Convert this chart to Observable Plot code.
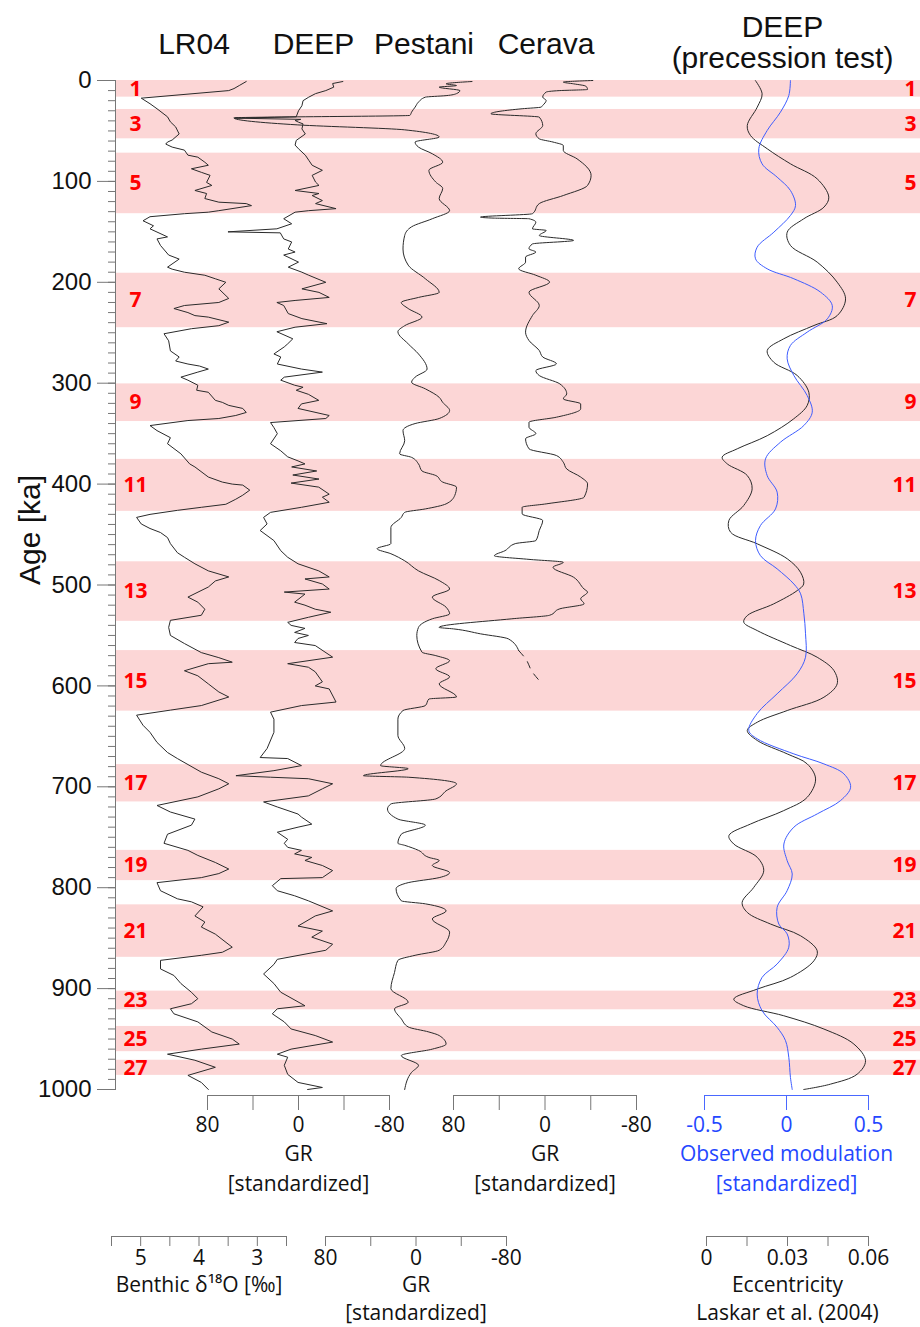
<!DOCTYPE html>
<html><head><meta charset="utf-8">
<script src="https://cdn.jsdelivr.net/npm/d3@7"></script>
<script src="https://cdn.jsdelivr.net/npm/@observablehq/plot@0.6"></script>
<style>
body{margin:0;background:#fff}
#wrap{position:relative;width:920px;height:1327px;overflow:hidden;background:#fff}
#wrap svg{position:absolute;left:0;top:0}
</style></head><body><div id="wrap"></div>
<script>
// Marine isotope stages (odd = interglacial bands), ages in ka
const misStage = [1,3,5,7,9,11,13,15,17,19,21,23,25,27];
const misStart = [0,28.7,72,191,300.7,375.5,477,565,678,763,817,902.5,937.5,971];
const misEnd   = [16.5,57.8,132,245,338,427,536,625,715,793,869,921,962.5,986];

// LR04 benthic d18O [permil] : [age ka, value]
const lr04 = [[1,3.19],[5,3.31],[8,3.40],[10,3.49],[17.5,4.99],[23,4.84],[28,4.72],[36,4.54],[41,4.49],[46,4.40],[53,4.34],[59,4.46],[61,4.54],[63,4.57],[66,4.46],[69,4.25],[74,4.19],[76,4.02],[81,3.90],[84,3.84],[87.5,4.13],[91,3.96],[94,3.81],[101,3.87],[104,3.78],[109,4.07],[112,3.87],[117,3.90],[120.6,3.66],[122,3.19],[124,3.10],[129,3.66],[130.5,3.84],[132,4.25],[135,4.84],[139,4.96],[144,4.78],[147,4.84],[155,4.54],[157,4.72],[163.5,4.66],[173,4.52],[177,4.34],[185,4.54],[187,4.46],[190,4.25],[193,3.90],[196.5,3.72],[200,3.54],[206.5,3.66],[216,3.49],[220,3.66],[223,4.25],[226,4.43],[230,4.19],[233,4.07],[234.5,3.84],[239.5,3.49],[243,3.66],[246,4.13],[251,4.60],
[258,4.52],[268,4.49],[274,4.34],[278,4.40],[281,4.19],[283,3.99],[286,3.84],[289,4.02],[294,4.31],[297,4.19],[302,4.02],[307,4.04],[309,3.84],[317,3.72],[319,3.60],[322,3.49],[325,3.25],[329,3.19],[332,3.37],[335,3.66],[337,4.19],[342,4.84],[347,4.72],[354,4.49],[360,4.54],[370,4.31],[380,4.16],[383,4.07],[393,3.84],[398,3.60],[400,3.43],[401,3.25],[406,3.13],[411,3.25],[415,3.37],[420,3.54],[423,3.96],[426,4.37],[430,4.84],[433,5.07],[439.5,4.99],[444,4.84],[448,4.66],[453,4.54],[459,4.49],[468,4.37],[472.5,4.25],[479,4.07],[486,3.84],[492,3.49],[496,3.72],[502,3.84],
[512,4.19],[517,4.02],[524,3.90],[530,3.96],[535,4.49],[542,4.52],[550,4.49],[558,4.25],[567,3.96],[572,3.66],[576.5,3.43],[578,3.84],[585,4.25],[590,4.02],[598,3.84],[606,3.66],[611,3.49],[619.5,3.96],[624,4.49],[629,5.07],[639,4.96],[646,4.84],[656,4.72],[666,4.54],[672,4.37],[685.5,3.96],[692,3.66],[697,3.49],[702,3.66],[710,4.02],[718.5,4.72],[725,4.49],[732,4.07],[738,4.13],[747,4.54],[756,4.60],
[763,4.19],[768,4.02],[775,3.72],[781.5,3.49],[786,3.66],[790,3.96],[795,4.72],[803,4.66],[811,4.37],[814,4.13],[819,3.93],[828,4.07],[834,3.90],[839,3.96],[846,3.72],[859,3.43],[864,3.60],[867,3.96],[872,4.66],[880.5,4.66],[887,4.43],[895,4.31],[903.6,4.13],[910,4.02],[915,4.13],[920,4.49],[925,4.43],[933,4.02],[943,3.78],[950,3.43],[955,3.31],[960,3.96],[965,4.54],[971,4.07],[978,3.72],[986,4.19],[993,3.96],[1000,3.84]];

// DEEP gamma ray [standardized]
const deepGR = [[1,-39],[3,-30],[6.6,-31],[10,-24],[13,-15],[16.5,-9],[20,-4],[25,-3],[30,0],[36,2],[37.3,56],[38.5,-2],[39.6,3],[41.3,0],[43,-4],[48,-3],[53,-6],[59.4,2],[64,3],[67.7,0],[74,-6],[79,-9],[84,-12],[89,-21],[94,-12],[100.7,-15],[104,-18],[109,3],[112,-18],[114,-12],[119,-21],[122,-15],[127,-33],[129,-9],[130.5,3],[137,13],[142,6],[147,19],[150,62],[151,16],[157,13],[160,6],[167,9],[170,3],[173,13],[180,0],[185,9],[190,-3],[193,-9],[200,-24],[206.5,-3],[210,-18],[215,-27],[218,3],[220,19],[223,13],[231,9],[236,-3],[241,-25],[244.5,3],[249,19],
[256,5],[261,9.5],[264,12.5],[271,21.6],[274,15.6],[281,18.6],[286,-2.6],[289,-21],[294,12.5],[297,15.6],[302,3.4],[304,-4],[307,2],[311,-8.7],[317,-17.8],[320.5,-2.6],[325,0.4],[332,-27],[335,-24],[339,24.6],[344,21.6],[350,18.6],[360,24.6],[367,15.6],[373,9.5],[377,0.4],[380,-5.7],[383,6],[387,-16],[391,5],[395,-18],[399,6.5],[403,-17.8],[410,-27],[413,-21],[418,-27],[423,-2.6],[428,24.6],[433,30.7],[439.5,27.6],[446,33.7],[456,21.6],[466,15.6],[472.5,9.5],[479,0.4],[486,-17.8],[492,-27],[494,-5.7],[499,-21],[504,-27],
[507,12.5],[509,-5.7],[517,3.4],[520,-5.7],[524,-14.7],[527,-28.4],[532,-8.7],[537,9.5],[540,6.5],[543,-5.7],[547,3.4],[550,-8.7],[553,0.4],[557,3.4],[560,-14.7],[571.5,-30],[578,9.5],[581.5,-8.7],[586,-14.7],[596,-21],[600,-14.7],[603,-27],[616,-33],[619.5,-2.6],[626,24.6],[633,21.6],[646,21.6],[662,27.6],[671,33.7],[672,9.5],[679,-2.6],[684,21.6],[689,55],[690.5,24.6],[692,-8.7],[697,-30],[702,-21],[709,-8.7],[715,30.7],[720,18.6],[727,0.4],[730,-2.6],[737,-11.7],[740,0.4],[745,18.6],[752,9.5],[756,12.5],
[760,9.5],[763,-2.6],[766.5,3.4],[770,-11.7],[773,-5.7],[778,-21],[783,-30],[790,-21],[791,15.6],[798,23],[803,18.6],[808,3.4],[813,-8.7],[823,-30],[828,-14.7],[838,0.4],[843,-21],[849,-11.7],[856,-30],[862,-24],[871,18.6],[876,21.6],[885.5,30.7],[895,21.6],[903.6,15.6],[917,-5.7],[920,18.6],[925,23],[933,12.5],[940,6.5],[946.5,-14.7],[953,-30],[960,6.5],[965,18.6],[968,9.5],[976,12.5],[985,9.5],[993,0.4],[998,-21],[1000,-8]];

// Pestani gamma ray [standardized]
const pestaniGR = [[1,-49.5],[3.3,-26.6],[5,-35.8],[6.6,-20.5],[10,-38.8],[13,-35.8],[15,-26.6],[16.5,-8.3],[21.4,-2.2],[26.4,0.8],[31.3,3.9],[34.6,5.4],[37,161],[44,104.5],[48.9,10],[56,-20.5],[61,0.8],[66,-2.2],[72.6,-14.4],[81,-23.6],[89,-11.4],[100.7,-17.5],[107,-23.6],[117,-20.5],[129,-29.7],[137,-14.4],[145,3.9],[153.6,10],[167,11.5],[183,6.9],[196.5,-8.3],[210,-20.5],[215,-2.2],[220,13],[226,6.9],[234.5,-5.3],[243,10],[249,16],
[261,6.9],[271,-2.2],[286,-9.8],[294,0.8],[299,3.9],[305.6,-8.3],[314,-20.5],[319,-23.6],[327,-29.7],[335,-20.5],[340,0.8],[347,11.5],[357,10],[370,14.5],[373.5,3.9],[380,-2.2],[387,-5.3],[391.5,-17.5],[398,-23.6],[403,-35.8],[411.4,-34.2],[419.6,-26.6],[424.6,-8.3],[428,10],[433,13],[443,22.2],[459,22.2],[464,34.4],[469,22.2],[476,10],[486,-2.2],[495.6,-20.5],[504,-29.7],
[512,-14.4],[522,-26.6],[528.6,-29.7],[533.5,-14.4],[542,-2.2],[550,-0.7],[566.6,-5.3],[570,-17.5],[575,-29.7],[583,-17.5],[591,-29.7],[598,-20.5],[611,-35.8],[613,-11.4],[619.5,-8.3],[624.4,11.5],[633,16],[649,16],[662,10],[679,31.3],[682,6.9],[689,46.5],[690.5,6.9],[697,-35.8],[704,-26.6],[712,-17.5],[717,22.2],[722,25.2],[732,16],[738,-8.3],[747,13],[756,16],
[758,10],[763,-2.2],[770,-11.4],[773,-20.5],[778,-14.4],[785,-29.7],[790,-20.5],[795,6.9],[801,17.6],[813,13],[816,-8.3],[823,-26.6],[831,-14.4],[844,-29.7],[854,-26.6],[862,-20.5],[867,0.8],[872,16],[884,19],[900,22.2],[913.5,6.9],[920,19],[930,13],[938,6.9],[943,-11.4],[946.5,-20.5],[955,-26.6],[960,-14.4],[966.4,13],[976,-2.2],[983,3.9],[1000,10]];

// Cerava gamma ray [standardized] (solid part, then dashed tail)
const ceravaGR = [[0,-41.8],[1.6,-16],[3.3,-25],[5.6,-35.7],[8.9,-37.2],[10,-13],[11.5,-1],[16.5,2],[19.8,-1],[24.7,2],[26.4,3.5],[28,20],[33,47.3],[36.3,5],[44.6,2],[52.8,8],[57.8,5],[61,-7],[64.4,-16],[69.3,-16],[77.6,-28],[94,-40.3],[104,-37.2],[114,-16],[122,5],[132,11],[135.4,56.4],[136.4,44.3],[137,14],[140.4,8],[147,11],[148.6,-1],[153.6,5],[158.5,-25],[162,11],[166.8,14],[170,8],[175,17],[180,17],[186.6,23],[193,8],[199.8,-4],[209.8,14],[223,5],[233,11],[249.4,17],
[257.7,14],[267.6,5],[274,2],[280.8,-10],[287.5,8],[292.4,5],[300.7,-13],[310.6,-19],[315.5,-16],[320.5,-31.2],[325.4,-31.2],[333.7,-10],[338.7,14],[343.6,14],[350,8],[355,17],[365,14],[371.7,-10],[378.3,-16],[385,-19],[393,-31.2],[399.8,-37.2],[413,-34.2],[419.6,-1],[423,20],[429.5,20],[436,2],[446,5],[456,8],[459,26],[466,35],[471,44.3],[474.6,14],[477.5,-16],[482.4,-7],[492.3,-25],[504,-34.2],
[507,-37.2],[513.7,-31.2],[518.7,-34.2],[523.6,-13],[530,-4],[533.5,29],[542,92.6],[543.5,80],[548.4,56.4],[553.4,32],[565,23]];
const ceravaTail = [[565,23],[573,17],[586.4,11],[594.7,5]];

// Laskar et al. (2004) eccentricity
const eccentricity = [[0,0.0181],[13.2,0.0206],[26.4,0.0188],[44.6,0.0151],[54.5,0.0163],[67.7,0.0225],[82.6,0.0311],[97.5,0.0410],[115.6,0.0453],[125.5,0.0435],[137.1,0.0360],[150.3,0.0299],[163.5,0.0311],[180,0.0410],[199.9,0.0484],[216.4,0.0515],[233,0.0484],[242.8,0.0398],[256,0.0286],[267.6,0.0225],[279.2,0.0249],[292.4,0.0336],[309,0.0379],[322,0.0373],[335.3,0.0323],[352,0.0225],[365,0.0114],[373.3,0.0058],[380,0.0077],[391.5,0.0151],[404.7,0.0169],[421.2,0.0138],[436,0.0083],[447.6,0.0089],[459.2,0.0188],[474,0.0299],[487.3,0.0348],[499,0.0360],
[505.5,0.0336],[518.7,0.0249],[530.3,0.0151],[536.9,0.0138],[545.2,0.0188],[560,0.0311],[571.6,0.0410],[584.8,0.0472],[598,0.0484],[611.2,0.0435],[624.4,0.0299],[636,0.0188],[644.2,0.0151],[654.1,0.0188],[667.4,0.0299],[677.3,0.0373],[692.2,0.0404],[710.4,0.0373],[723.6,0.0286],[736.9,0.0163],[748.4,0.0083],[756.7,0.0101],[769.9,0.0188],[783.2,0.0212],[799.7,0.0175],[814.6,0.0132],[824.5,0.0151],[836,0.0237],[847.6,0.0348],[862.5,0.0410],[872.4,0.0398],[888.9,0.0311],[900.5,0.0188],[910.4,0.0101],[917,0.0138],[926.9,0.0286],[940.1,0.0435],[955,0.0546],[971.5,0.0589],[984.8,0.0558],[994.7,0.0459],[1000,0.0360]];

// DEEP observed precession modulation [standardized]
const modulation = [[0,0.024],[14.9,0.014],[31.4,-0.037],[49.6,-0.118],[67.7,-0.169],[82.6,-0.149],[95.8,-0.057],[109,0.024],[123.9,0.055],[133.8,0.024],[150.3,-0.077],[165.2,-0.179],[176.7,-0.189],[186.6,-0.118],[196.5,0.045],[209.8,0.208],[223,0.279],[236.2,0.249],[249.4,0.126],[262.6,0.024],[275.8,0.004],[292.4,0.045],[312.2,0.126],[328.7,0.157],[341.9,0.106],[358.5,-0.037],[375,-0.128],[391.5,-0.118],[408,-0.057],[424.6,-0.067],[441.1,-0.159],[456,-0.189],[470.9,-0.159],[484,-0.057],[499,0.045],
[508.7,0.086],[528.5,0.106],[548.3,0.116],[571.6,0.116],[588,0.065],[607.8,-0.057],[627.4,-0.179],[644.2,-0.230],[652.4,-0.179],[667.4,0.045],[677.3,0.228],[687.2,0.350],[700.4,0.391],[713.6,0.330],[726.8,0.188],[740,0.045],[756.7,-0.016],[773.2,0.004],[786.4,0.035],[802.9,0.004],[819.4,-0.057],[836,-0.047],[845.8,0.004],[859,0.014],[875.6,-0.057],[888.9,-0.149],[905.4,-0.179],[921.9,-0.149],[938.4,-0.057],[951.6,-0.006],[968.1,0.014],[988,0.024],[1000,0.035]];

// tick values
const ageTicksMajor = d3.range(0, 1001, 100);
const ageTicksMinor = d3.range(0, 1001, 10);
const grTicks = [80, 40, 0, -40, -80];
const grLabeled = [80, 0, -80];
const d18OTicks = [5.5, 5, 4.5, 4, 3.5, 3, 2.5];
const d18OLabeled = [5, 4, 3];
const eccTicks = [0, 0.015, 0.03, 0.045, 0.06];
const eccLabeled = [0, 0.03, 0.06];
const modTicks = [-0.5, 0, 0.5];

const W = 920, H = 1327;
const Y = {domain: [0, 1000], range: [80, 1089]};
const wrap = document.getElementById("wrap");
const toObj = arr => arr.map(([age, v]) => ({age, v}));
const bands = misStage.map((s, i) => ({stage: s, start: misStart[i], end: misEnd[i]}));

// main frame: bands, age axis, stage numbers
const stageText = {y: d => (d.start + d.end) / 2, text: d => String(d.stage), lineAnchor: "middle", fill: "#ff0000", fontWeight: "bold", fontSize: 21, fontFamily: "Open Sans"};
const main = Plot.plot({
  width: W, height: H,
  marginTop: 80, marginBottom: H - 1089, marginLeft: 115, marginRight: 0,
  y: {...Y},
  style: {fontFamily: "Liberation Sans, Arial, sans-serif", background: "white", overflow: "visible"},
  marks: [
    Plot.rect(bands, {y1: "start", y2: "end", fill: "#fcd6d6"}),
    Plot.frame({anchor: "left", stroke: "#777"}),
    Plot.axisY({ticks: ageTicksMinor, tickSize: 7, tickFormat: () => "", stroke: "#777", label: null}),
    Plot.axisY({ticks: ageTicksMajor, tickSize: 18, tickPadding: 6, fontSize: 24, stroke: "#777", fill: "#111", label: null, tickFormat: d => String(d)}),
    Plot.text(bands, {...stageText, frameAnchor: "left", dx: 20, textAnchor: "middle"}),
    Plot.text(bands, {...stageText, frameAnchor: "right", dx: -4, textAnchor: "end"}),
    Plot.text(["Age [ka]"], {text: d => d, frameAnchor: "left", dx: -85, rotate: -90, fontSize: 30, fill: "#111"})
  ]
});
wrap.appendChild(main);

function track({lines, domain, left, right, row, ticks, labeled, axisColor = "#777", textColor = "#111", labels = [], titles = []}) {
  const axisY = row === 1 ? 1095 : 1236;
  const tickSize = row === 1 ? 15 : 10;
  const tickPadding = row === 1 ? 7 : 4;
  const labelDy = row === 1 ? [59, 89] : [49, 77];
  const fmt = d => labeled.includes(d) ? String(d) : "";
  const marks = [
    Plot.frame({anchor: "bottom", stroke: axisColor}),
    Plot.axisX({ticks, tickFormat: fmt, tickSize, tickPadding, stroke: axisColor, fill: textColor, fontSize: 21, label: null}),
    ...lines,
    ...labels.map((t, i) => Plot.text([t], {text: d => d, frameAnchor: "bottom", dy: labelDy[i], lineAnchor: "middle", fill: textColor, fontSize: 21})),
    ...titles.map(t => Plot.text([t.text], {text: d => d, frameAnchor: "top", dx: t.dx, dy: t.dy, lineAnchor: "middle", fill: "#111", fontSize: 30, fontFamily: "Liberation Sans, Arial, sans-serif"}))
  ];
  const svg = Plot.plot({
    width: W, height: H,
    marginTop: 80, marginBottom: H - axisY, marginLeft: left, marginRight: W - right,
    x: {domain},
    y: {...Y, axis: null},
    style: {fontFamily: "Open Sans, sans-serif", fontSize: "21px", background: "transparent", overflow: "visible"},
    marks
  });
  wrap.appendChild(svg);
}

const lineOpts = {x: "v", y: "age", stroke: "#2a2a2a", strokeWidth: 1, curve: "linear"};
const smoothOpts = {...lineOpts, curve: "monotone-y"};
const sineOpts = {...lineOpts, curve: "catmull-rom"};

track({
  lines: [Plot.line(toObj(lr04), lineOpts)],
  domain: [5.5, 2.5], left: 111, right: 286, row: 2,
  ticks: d18OTicks, labeled: d18OLabeled,
  labels: ["Benthic δ¹⁸O [‰]"],
  titles: [{text: "LR04", dx: -5, dy: -36}]
});
track({
  lines: [Plot.line(toObj(deepGR), lineOpts)],
  domain: [80, -80], left: 207, right: 389, row: 1,
  ticks: grTicks, labeled: grLabeled,
  labels: ["GR", "[standardized]"],
  titles: [{text: "DEEP", dx: 15, dy: -36}]
});
track({
  lines: [Plot.line(toObj(pestaniGR), smoothOpts)],
  domain: [80, -80], left: 325, right: 506, row: 2,
  ticks: grTicks, labeled: grLabeled,
  labels: ["GR", "[standardized]"],
  titles: [{text: "Pestani", dx: 8, dy: -36}]
});
track({
  lines: [Plot.line(toObj(ceravaGR), smoothOpts), Plot.line(toObj(ceravaTail), {...smoothOpts, strokeDasharray: "7,7"})],
  domain: [80, -80], left: 453, right: 636, row: 1,
  ticks: grTicks, labeled: grLabeled,
  labels: ["GR", "[standardized]"],
  titles: [{text: "Cerava", dx: 1, dy: -36}]
});
track({
  lines: [Plot.line(toObj(eccentricity), sineOpts)],
  domain: [0, 0.06], left: 706, right: 868, row: 2,
  ticks: eccTicks, labeled: eccLabeled,
  labels: ["Eccentricity", "Laskar et al. (2004)"]
});
track({
  lines: [Plot.line(toObj(modulation), {...sineOpts, stroke: "#3d5cff"})],
  domain: [-0.5, 0.5], left: 704, right: 868, row: 1,
  ticks: modTicks, labeled: modTicks, axisColor: "#4a68ff", textColor: "#2447ff",
  labels: ["Observed modulation", "[standardized]"],
  titles: [{text: "DEEP", dx: -4, dy: -53}, {text: "(precession test)", dx: -4, dy: -22}]
});
</script></body></html>
